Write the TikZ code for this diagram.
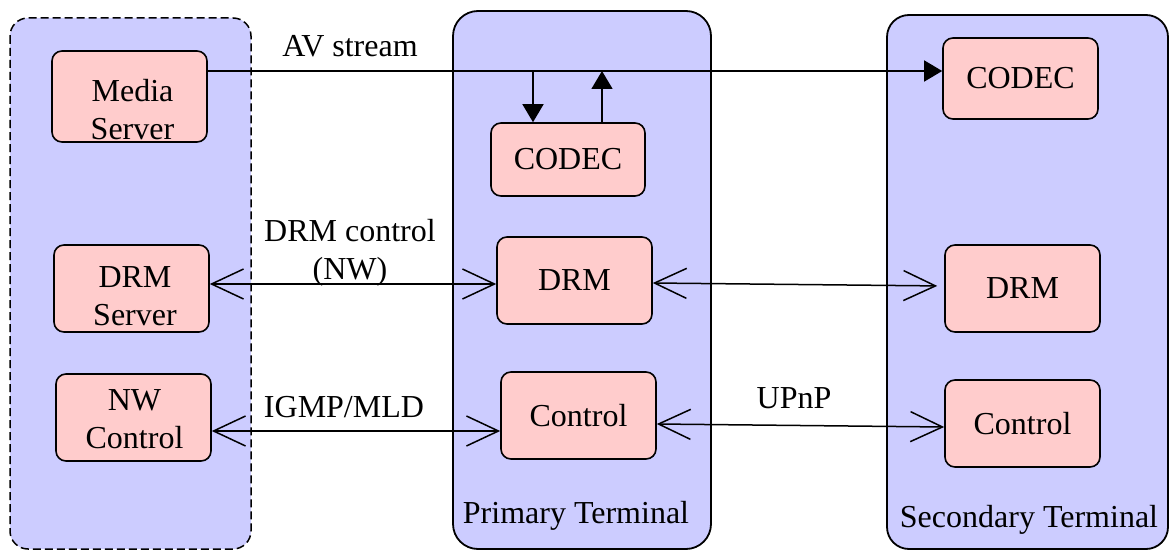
\documentclass[tikz,border=0pt]{standalone}
\usepackage{fontspec}
\setmainfont{Liberation Serif}
\usetikzlibrary{arrows.meta}
\definecolor{termfill}{HTML}{CCCCFF}
\definecolor{unitfill}{HTML}{FFCCCC}
\tikzset{
  barb/.tip={Straight Barb[length=32pt,width=30pt]},
  solid head/.tip={Triangle[length=18pt,width=21pt]},
}
\begin{document}
\begin{tikzpicture}[x=1pt,y=-1pt,
  every node/.style={font=\rmfamily\fontsize{32}{38}\selectfont},
  terminal/.style={fill=termfill, draw=black, line width=1.8pt},
  unit/.style={draw=black, fill=unitfill, line width=1.6pt, rounded corners=10pt,
    minimum width=155pt, minimum height=87pt, inner sep=0pt},
  caption/.style={inner sep=0pt, anchor=base},
  stack/.style={inner sep=0pt, anchor=north, align=center},
  link/.style={line width=1.5pt, barb-barb},
  feed/.style={line width=1.5pt, -solid head},
]
\useasboundingbox (0,0) rectangle (1171,551);

% terminals
\draw[terminal, line width=1.5pt, dash pattern=on 8pt off 4pt, rounded corners=18pt]
  (10,18) rectangle (251,549);
\draw[terminal, rounded corners=25pt] (453,11) rectangle (711,549);
\draw[terminal, rounded corners=22pt] (887,15) rectangle (1168,549);

% functional units
\node[unit, minimum height=91pt] (ms) at (129.5,96.5) {};
\node[stack] (mslbl) at (132.5,79) {Media\\Server};
\node[unit] (drms) at (131.5,288.5) {};
\node[stack] (drmslbl) at (135,266.5) {DRM\\Server};
\node[unit] (nwc) at (133.5,417.5) {};
\node[stack] (nwclbl) at (134.5,389.5) {NW\\Control};

\node[unit, minimum width=154pt, minimum height=73pt] (codec1) at (568,159.5) {CODEC};
\node[unit] (drm1) at (574.5,280.5) {DRM};
\node[unit] (ctl1) at (578.5,415.5) {Control};

\node[unit, minimum height=81pt] (codec2) at (1020.5,78.5) {CODEC};
\node[unit] (drm2) at (1022.5,288.5) {DRM};
\node[unit] (ctl2) at (1022.5,423.5) {Control};

% captions
\node[caption] (avlbl) at (350,57) {AV stream};
\node[stack] (drmctl) at (350,219) {DRM control\\(NW)};
\node[caption] (igmp) at (344,417) {IGMP/MLD};
\node[caption] (upnp) at (794,408) {UPnP};
\node[caption] (primary) at (576,523) {Primary Terminal};
\node[caption] (secondary) at (1029,527) {Secondary Terminal};

% AV stream and its taps at the primary CODEC
\coordinate (avdown) at (533,71);
\coordinate (avup) at (602,71);
\draw[feed] (ms.east |- avdown) -- (codec2.west |- avdown);
\draw[feed] (avdown) -- (avdown |- codec1.north);
\draw[feed] (avup |- codec1.north) -- (avup);

% control links
\draw[link] (drms.east |- 0,284) -- (drm1.west |- 0,284);
\draw[link, shorten >=7pt] (drm1.east |- 0,283) -- (drm2.west |- 0,286);
\draw[link] (nwc.east |- 0,431) -- (ctl1.west |- 0,431);
\draw[link] (ctl1.east |- 0,424) -- (ctl2.west |- 0,427);
\end{tikzpicture}
\end{document}
